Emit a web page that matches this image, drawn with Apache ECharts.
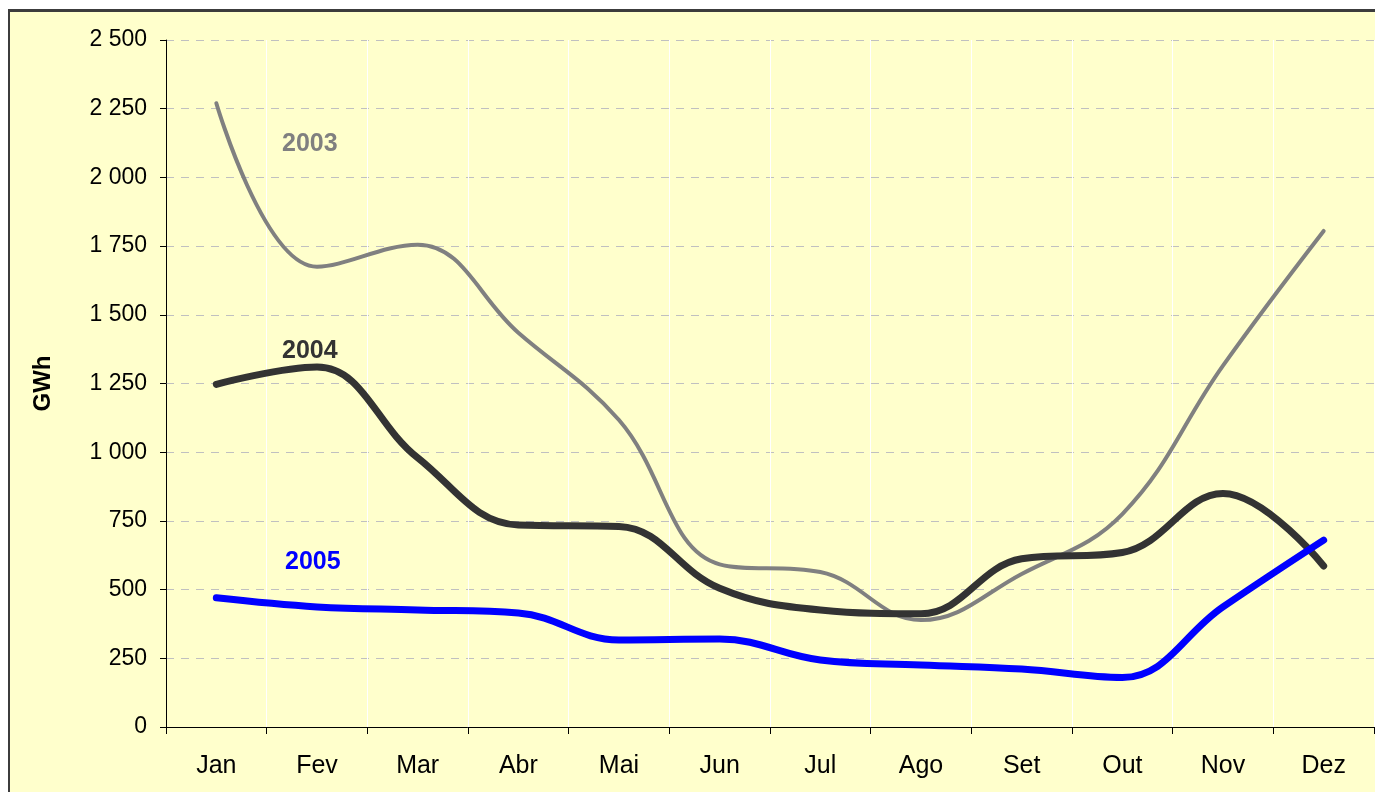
<!DOCTYPE html>
<html>
<head>
<meta charset="utf-8">
<script src="https://cdn.jsdelivr.net/npm/echarts@6/dist/echarts.min.js"></script>
<style>
  html, body {margin:0; padding:0; background:#fff; overflow:hidden;}
  #frame {position:absolute; left:8px; top:9px; width:1400px; height:820px;
          background:#FFFFCC; border-top:3px solid #3c3c3c; border-left:2px solid #3c3c3c;}
  #chart {position:absolute; left:0; top:0; width:1375px; height:792px;}
</style>
</head>
<body>
<div id="frame"></div>
<div id="chart"></div>
<script>
// meses
var months = ['Jan','Fev','Mar','Abr','Mai','Jun','Jul','Ago','Set','Out','Nov','Dez'];
// GWh por ano
var y2003 = [2270, 1675, 1755, 1435, 1117, 592, 564, 389, 557, 775, 1315, 1805];
var y2004 = [1247, 1310, 980, 735, 730, 505, 426, 412, 612, 635, 850, 586];
var y2005 = [470, 437, 426, 415, 317, 320, 244, 226, 211, 180, 437, 680];
var yTicks = [0, 250, 500, 750, 1000, 1250, 1500, 1750, 2000, 2250, 2500];

var font = 'Liberation Sans, Arial, sans-serif';

function fmt(v) {
    // separador de milhares com espaço
    return String(v).replace(/\B(?=(\d{3})+(?!\d))/g, ' ');
}

function lineSeries(name, data, color, width) {
    return {
        name: name,
        type: 'line',
        smooth: 0.4,
        symbol: 'none',
        data: data,
        lineStyle: {color: color, width: width, cap: 'round', join: 'round'},
        z: width < 5 ? 3 : 4
    };
}

var option = {
    animation: false,
    backgroundColor: 'transparent',
    grid: {left: 166, top: 40, right: 1, bottom: 65},
    xAxis: {
        type: 'category',
        data: months,
        boundaryGap: true,
        axisLine: {lineStyle: {color: '#000', width: 1}},
        axisTick: {show: true, length: 7, lineStyle: {color: '#000'}},
        axisLabel: {color: '#000', fontSize: 25, fontFamily: font, margin: 27},
        splitLine: {show: true, lineStyle: {color: '#ffffff', width: 1}}
    },
    yAxis: {
        type: 'value',
        min: yTicks[0],
        max: yTicks[yTicks.length - 1],
        interval: 250,
        name: 'GWh',
        nameLocation: 'middle',
        nameGap: 111,
        nameRotate: 90,
        nameTextStyle: {color: '#000', fontSize: 24, fontWeight: 'bold', fontFamily: font},
        axisLine: {show: true, lineStyle: {color: '#000', width: 1}},
        axisTick: {show: true, length: 6, lineStyle: {color: '#000'}},
        axisLabel: {color: '#000', fontSize: 23, fontFamily: font, margin: 19,
                    formatter: function (v) { return fmt(v); }},
        splitLine: {show: true, lineStyle: {color: '#c0c0c0', width: 1, type: [8, 7]}}
    },
    graphic: [
        {type: 'text', left: 282, top: 132, style: {text: '2003', fill: '#808080', font: 'bold 25px ' + font}},
        {type: 'text', left: 282, top: 339, style: {text: '2004', fill: '#333333', font: 'bold 25px ' + font}},
        {type: 'text', left: 285, top: 550, style: {text: '2005', fill: '#0000ff', font: 'bold 25px ' + font}}
    ],
    series: [
        lineSeries('2003', y2003, '#808080', 4),
        lineSeries('2004', y2004, '#333333', 7),
        lineSeries('2005', y2005, '#0000ff', 7)
    ]
};

var myChart = echarts.init(document.getElementById('chart'));
myChart.setOption(option);
</script>
</body>
</html>
